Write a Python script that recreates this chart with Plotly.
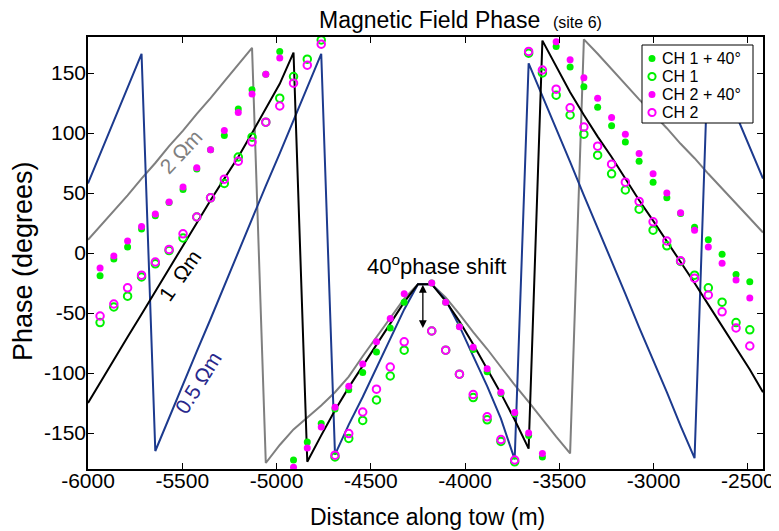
import plotly.graph_objects as go

# ---------------- data ----------------
x_data = [-5936, -5863, -5790, -5716, -5643, -5570, -5496, -5423, -5350, -5277, -5203, -5130,
          -5057, -4983, -4910, -4837, -4763, -4690, -4617, -4543, -4470, -4397, -4323,
          -4177, -4103, -4030, -3957, -3883, -3810, -3737, -3663, -3590, -3517, -3443, -3370,
          -3297, -3223, -3150, -3077, -3003, -2930, -2857, -2783, -2710, -2637, -2563, -2490]

ch1 = [-58, -45, -36, -20, -9, 2, 12.5, 30, 46, 58, 80, 96.5, 109, 129, 147, 161.5, 177.5,
       -170, -154.5, -139.5, -122.5, -102.5, -81,
       -65, -81, -101, -120.5, -139, -157, -174, 166.5, 150, 131.5, 115, 99, 81.5, 66, 52.5,
       36.5, 19, 6, -7, -18.5, -29, -41, -58, -64]
ch1_40 = [-19, -5, 5, 20, 31, 42, 53, 70, 86, 98, 120, 136, 149, 168, -172.5, -157.5, -142,
          -130, -114, -99.5, -82.5, -62.5, -41,
          -25, -41, -61, -80.5, -99, -117, -134, -152, -170, 172, 155, 138.5, 121.5, 106, 92.5,
          76.5, 59, 46, 33, 21.5, 11, -1, -18, -24]
ch2 = [-52.5, -42.5, -29, -18.5, -7.5, 3, 16, 30, 46, 61.5, 76.5, 92.5, 109, 122.5, 141.5, 156.5,
       174, -168.5, -150.5, -132.5, -113.5, -95, -74,
       -65, -81, -101, -118, -136.5, -155.5, -172.5, 168, 152.5, 136.5, 121, 105, 89, 74, 59,
       43, 26, 10, -6.5, -21, -35, -49, -62.5, -77.5]
ch2_40 = [-12.5, -2.5, 10, 22, 32.5, 42.5, 55, 71, 86, 102, 117, 132.5, 149, 162.5, -178.5,
          -162.5, -145, -128.5, -111, -92.5, -74, -54.5, -34,
          -25, -41, -61.5, -78.5, -96.5, -116, -133, -150, -167, 176, 161, 146, 129, 113, 99,
          83, 66, 50, 33.5, 19, 5, -8.5, -22.5, -37.5]

x_model = [-6000, -5936, -5863, -5790, -5716, -5643, -5570, -5496, -5423, -5350, -5277, -5203,
           -5130, -5057, -4983, -4910, -4837, -4763, -4690, -4617, -4543, -4470, -4397, -4323,
           -4250, -4177, -4103, -4030, -3957, -3883, -3810, -3737, -3663, -3590, -3517, -3443,
           -3370, -3297, -3223, -3150, -3077, -3003, -2930, -2857, -2783, -2710, -2637, -2563,
           -2490, -2420]
model_1ohm = [-125, -108, -89, -70, -51, -32, -13, 6, 26, 44, 62, 80, 100, 120, 141, 167,
              -174, -152, -131, -112, -94, -77, -59, -41, -26, -26, -40, -57, -76, -97, -117,
              -139, -163, 177, 155, 134, 115, 97, 80, 62, 44, 27, 10, -7, -25, -43, -61, -79,
              -97, -116]
model_2ohm = [11, 22, 35, 48, 62, 75, 89, 102, 116, 129, 143, 157, 171, -175, -160, -147, -137,
              -127, -116, -103, -86, -70, -54, -38, -26, -26, -37, -51, -66, -80, -95, -110,
              -124, -139, -153, -167, 178, 166, 153, 141, 128, 116, 104, 91, 79, 66, 54, 41,
              29, 17]
model_05ohm = [58, 82, 110, 138, 166, -165, -137, -110, -82, -55, -27, 1, 28, 56, 83, 111, 138,
               166, -168, -143, -120, -96, -71, -47, -26, -26, -39, -61, -86, -111, -138, -172,
               158, 131, 103, 76, 48, 21, -7, -34, -62, -89, -116, -144, -171, 170, 143, 115,
               88, 62]

x_tick_vals = [-6000, -5500, -5000, -4500, -4000, -3500, -3000, -2500]
x_tick_text = ["-6000", "-5500", "-5000", "-4500", "-4000", "-3500", "-3000", "-2500"]
y_tick_vals = [-150, -100, -50, 0, 50, 100, 150]
y_tick_text = ["-150", "-100", "-50", "0", "50", "100", "150"]

legend_names = ["CH 1 + 40°", "CH 1", "CH 2 + 40°", "CH 2"]

GREEN = "#00f000"
MAGENTA = "#ff00ff"
BLUE = "#1c3a8e"
GRAY = "#7f7f7f"
FONT = "Liberation Sans, Arial, Helvetica, sans-serif"

fig = go.Figure()

# model lines
fig.add_trace(go.Scatter(x=x_model, y=model_2ohm, mode="lines",
                         line=dict(color=GRAY, width=2), showlegend=False, name="2 Ωm"))
fig.add_trace(go.Scatter(x=x_model, y=model_05ohm, mode="lines",
                         line=dict(color=BLUE, width=2), showlegend=False, name="0.5 Ωm"))
fig.add_trace(go.Scatter(x=x_model, y=model_1ohm, mode="lines",
                         line=dict(color="black", width=2), showlegend=False, name="1 Ωm"))

# data markers
fig.add_trace(go.Scatter(x=x_data, y=ch1_40, mode="markers", name=legend_names[0],
                         marker=dict(symbol="circle", size=7, color=GREEN), showlegend=False))
fig.add_trace(go.Scatter(x=x_data, y=ch1, mode="markers", name=legend_names[1],
                         marker=dict(symbol="circle-open", size=7.5, color=GREEN,
                                     line=dict(width=2, color=GREEN)), showlegend=False))
fig.add_trace(go.Scatter(x=x_data, y=ch2_40, mode="markers", name=legend_names[2],
                         marker=dict(symbol="circle", size=7, color=MAGENTA), showlegend=False))
fig.add_trace(go.Scatter(x=x_data, y=ch2, mode="markers", name=legend_names[3],
                         marker=dict(symbol="circle-open", size=7.5, color=MAGENTA,
                                     line=dict(width=2, color=MAGENTA)), showlegend=False))

# geometry: the page places the figure 8 px in from the top-left corner
OFF = 8
W, H = 779, 531
PL, PR, PT, PB = 88, 763, 37, 469          # plot area in page pixels
ML, MR, MT, MB = PL - OFF, W - (PR - OFF), PT - OFF, H - (PB - OFF)
PW, PH = PR - PL, PB - PT


def px2paper(px, py):
    return (px - PL) / PW, (PB - py) / PH


shapes = []
annotations = []

# custom legend box
bx0, by1 = px2paper(642, 45)
bx1, by0 = px2paper(753, 123)
shapes.append(dict(type="rect", xref="paper", yref="paper", x0=bx0, x1=bx1, y0=by0, y1=by1,
                   line=dict(color="black", width=1), fillcolor="white", layer="above"))
row_py = [58.5, 76.5, 94.5, 112.5]
leg_style = [(GREEN, True), (GREEN, False), (MAGENTA, True), (MAGENTA, False)]
for name, ry, (col, filled) in zip(legend_names, row_py, leg_style):
    mx, my = px2paper(652, ry)
    r = 3.5 if filled else 3.6
    shapes.append(dict(type="circle", xref="paper", yref="paper", xsizemode="pixel",
                       ysizemode="pixel", xanchor=mx, yanchor=my, x0=-r, x1=r, y0=-r, y1=r,
                       fillcolor=col if filled else "rgba(0,0,0,0)",
                       line=dict(color=col, width=0 if filled else 2), layer="above"))
    tx, ty = px2paper(660, ry)
    annotations.append(dict(xref="paper", yref="paper", x=tx, y=ty, text=name, showarrow=False,
                            xanchor="left", yanchor="middle",
                            font=dict(family=FONT, size=16, color="black")))

# axis titles (placed in page pixels relative to the plot area)
xtx, xty = px2paper(427, 517)
annotations.append(dict(xref="paper", yref="paper", x=xtx, y=xty, text="Distance along tow (m)",
                        showarrow=False, xanchor="center", yanchor="middle",
                        font=dict(family=FONT, size=23, color="black")))
ytx, yty = px2paper(23, 261)
annotations.append(dict(xref="paper", yref="paper", x=ytx, y=yty, text="Phase (degrees)",
                        showarrow=False, xanchor="center", yanchor="middle", textangle=-90,
                        font=dict(family=FONT, size=27, color="black")))

# chart title as an annotation centred above the plot
ttx, tty = px2paper(460, 20)
annotations.append(dict(xref="paper", yref="paper", x=ttx, y=tty,
                        text="Magnetic Field Phase&nbsp;&nbsp;<span style='font-size:16px'>(site 6)</span>",
                        showarrow=False, xanchor="center", yanchor="middle",
                        font=dict(family=FONT, size=23, color="black")))

# model labels
annotations += [
    dict(x=-5508, y=85, text="2 Ωm", showarrow=False, textangle=-47,
         font=dict(family=FONT, size=21, color=GRAY)),
    dict(x=-5512, y=-19, text="1  Ωm", showarrow=False, textangle=-55,
         font=dict(family=FONT, size=21, color="black")),
    dict(x=-5415, y=-108, text="0.5 Ωm", showarrow=False, textangle=-58,
         font=dict(family=FONT, size=21, color="#28288c")),
    dict(x=-4150, y=-10, text="40<sup>o</sup>phase shift", showarrow=False,
         font=dict(family=FONT, size=22, color="black")),
    dict(x=-4224, y=-62.5, ax=-4224, ay=-25.3, axref="x", ayref="y", xref="x", yref="y",
         text="", showarrow=True, arrowhead=2, startarrowhead=2, arrowside="end+start",
         arrowsize=1.2, startarrowsize=1.2, arrowwidth=1.3, arrowcolor="black",
         standoff=0, startstandoff=0),
]

fig.update_layout(
    width=W, height=H,
    margin=dict(l=ML, r=MR, t=MT, b=MB, autoexpand=False),
    paper_bgcolor="white", plot_bgcolor="white",
    font=dict(family=FONT, color="black"),
    xaxis=dict(range=[-6000, -2420], tickvals=x_tick_vals, ticktext=x_tick_text,
               ticks="inside", ticklen=6, tickwidth=1, tickcolor="black",
               showline=True, linecolor="black", linewidth=1.5, mirror="ticks",
               showgrid=False, zeroline=False, automargin=False,
               tickfont=dict(family=FONT, size=21, color="black")),
    yaxis=dict(range=[-180, 180], tickvals=y_tick_vals, ticktext=y_tick_text,
               ticks="inside", ticklen=6, tickwidth=1, tickcolor="black",
               showline=True, linecolor="black", linewidth=1.5, mirror="ticks",
               showgrid=False, zeroline=False, automargin=False,
               tickfont=dict(family=FONT, size=21, color="black")),
    shapes=shapes,
    annotations=annotations,
)

# pull tick labels closer to the axes (inside ticks leave an extra gap)
try:
    fig.update_xaxes(ticklabelstandoff=-8)
    fig.update_yaxes(ticklabelstandoff=-4)
except Exception:
    pass

fig.write_html("out.html")
